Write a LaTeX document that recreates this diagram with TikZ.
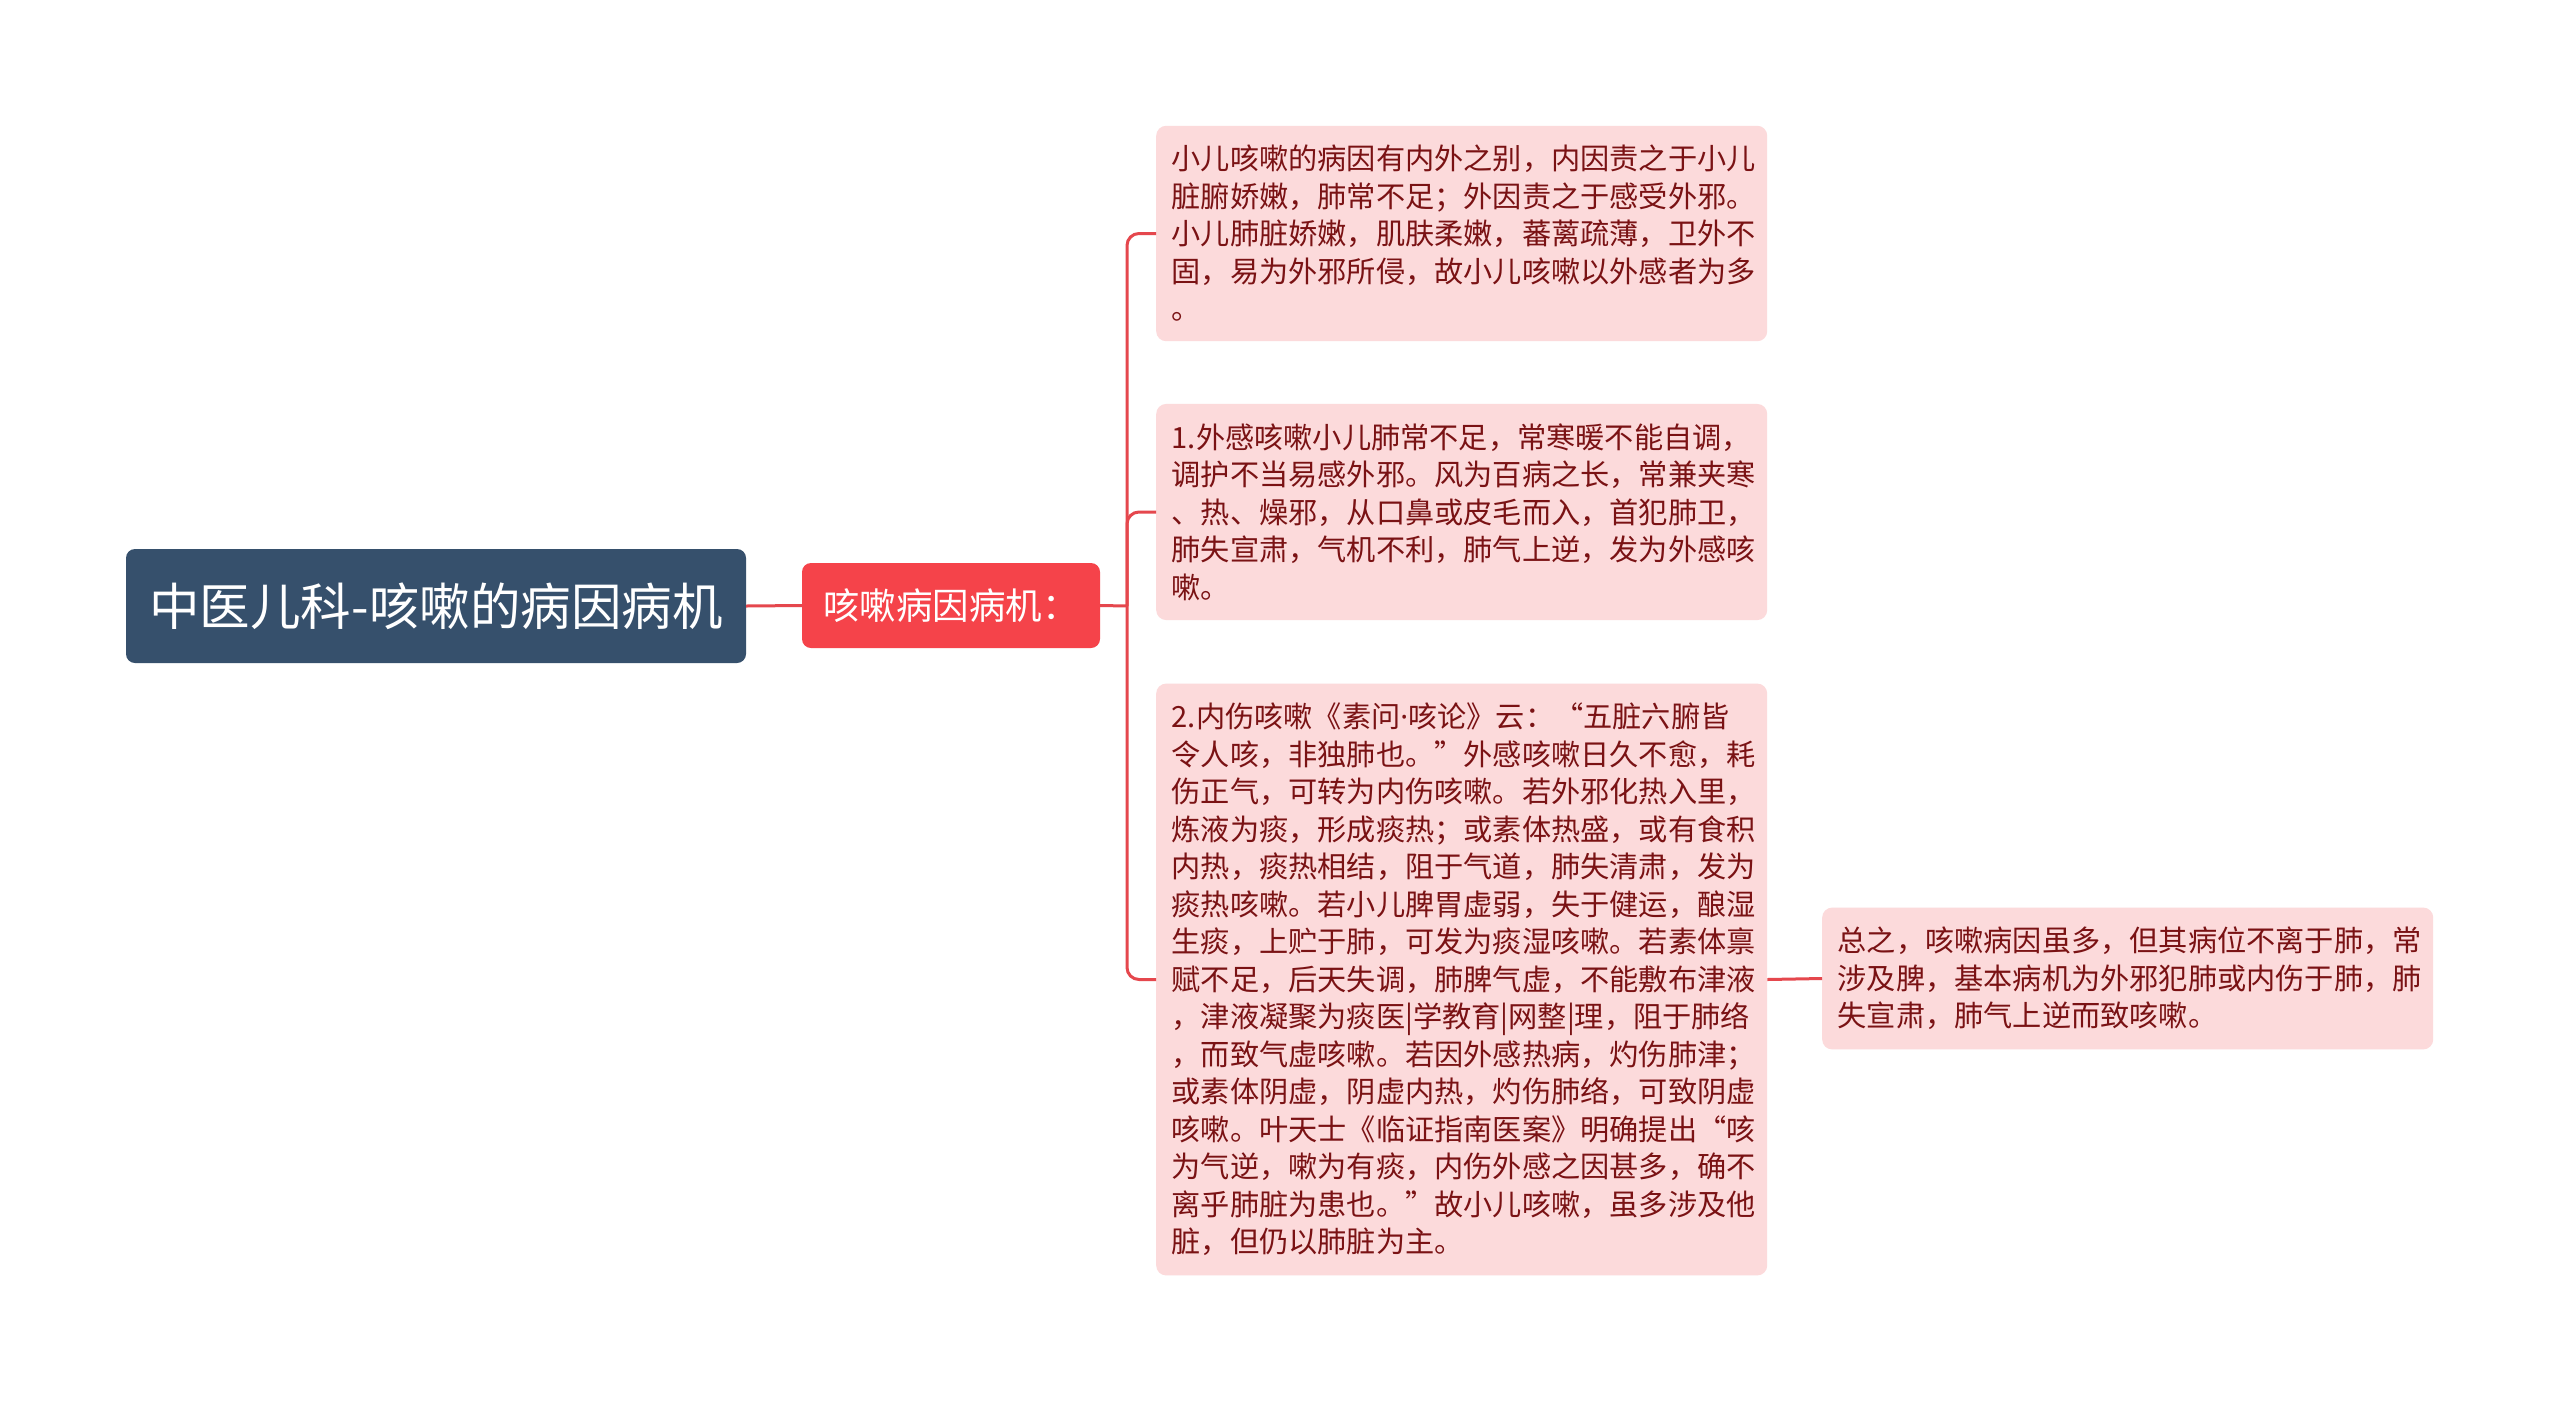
\documentclass[tikz,border=0pt]{standalone}
\usepackage{fontspec}
\setmainfont{Noto Sans CJK SC}
\newfontfamily\latinfont{Noto Sans}
\definecolor{rootfill}{HTML}{36506C}
\definecolor{midfill}{HTML}{F5434A}
\definecolor{leaffill}{HTML}{FCDADB}
\definecolor{leaftext}{HTML}{7A1214}
\definecolor{linkcol}{HTML}{E5474D}
\begin{document}
\begin{tikzpicture}[x=1pt,y=-1pt,
  rootbox/.style={fill=rootfill,rounded corners=9pt,text=white,minimum width=620pt,minimum height=114pt,inner sep=0pt,font=\fontsize{50.5}{60}\selectfont},
  midbox/.style={fill=midfill,rounded corners=9pt,text=white,minimum width=298pt,minimum height=85pt,inner sep=0pt,font=\fontsize{36.5}{44}\selectfont},
  leafbox/.style={fill=leaffill,rounded corners=10pt,text=leaftext,align=left,text width=580pt,inner xsep=15.5pt,inner ysep=19.5pt,anchor=west,font=\fontsize{29.2}{37.5}\selectfont},
  link/.style={draw=linkcol,line width=3pt},
]
\useasboundingbox (0,0) rectangle (2560,1401);
\fill[white] (0,0) rectangle (2560,1401);

\node[rootbox] (root) at (436,606) {中医儿科-咳嗽的病因病机};
\node[midbox] (mid) at (951,605.5) {咳嗽病因病机：};

\node[leafbox] (a) at (1156,233.5) {小儿咳嗽的病因有内外之别，内因责之于小儿\\脏腑娇嫩，肺常不足；外因责之于感受外邪。\\小儿肺脏娇嫩，肌肤柔嫩，蕃蓠疏薄，卫外不\\固，易为外邪所侵，故小儿咳嗽以外感者为多\\。};
\node[leafbox] (b) at (1156,512) {1.外感咳嗽小儿肺常不足，常寒暖不能自调，\\调护不当易感外邪。风为百病之长，常兼夹寒\\、热、燥邪，从口鼻或皮毛而入，首犯肺卫，\\肺失宣肃，气机不利，肺气上逆，发为外感咳\\嗽。};
\node[leafbox] (c) at (1156,979.5) {2.内伤咳嗽《素问{\latinfont ·}咳论》云：“五脏六腑皆\\令人咳，非独肺也。”外感咳嗽日久不愈，耗\\伤正气，可转为内伤咳嗽。若外邪化热入里，\\炼液为痰，形成痰热；或素体热盛，或有食积\\内热，痰热相结，阻于气道，肺失清肃，发为\\痰热咳嗽。若小儿脾胃虚弱，失于健运，酿湿\\生痰，上贮于肺，可发为痰湿咳嗽。若素体禀\\赋不足，后天失调，肺脾气虚，不能敷布津液\\，津液凝聚为痰医|学教育|网整|理，阻于肺络\\，而致气虚咳嗽。若因外感热病，灼伤肺津；\\或素体阴虚，阴虚内热，灼伤肺络，可致阴虚\\咳嗽。叶天士《临证指南医案》明确提出“咳\\为气逆，嗽为有痰，内伤外感之因甚多，确不\\离乎肺脏为患也。”故小儿咳嗽，虽多涉及他\\脏，但仍以肺脏为主。};
\node[leafbox] (d) at (1822,978.5) {总之，咳嗽病因虽多，但其病位不离于肺，常\\涉及脾，基本病机为外邪犯肺或内伤于肺，肺\\失宣肃，肺气上逆而致咳嗽。};

\coordinate (fork) at (1127,606);
\draw[link] (root.east) -- (mid.west);
\draw[link] (mid.east) -- (fork);
\draw[link,rounded corners=12pt] (fork) |- (a.west);
\draw[link,rounded corners=12pt] (fork) |- (b.west);
\draw[link,rounded corners=12pt] (fork) |- (c.west);
\draw[link] (c.east) -- (d.west);
\end{tikzpicture}
\end{document}
